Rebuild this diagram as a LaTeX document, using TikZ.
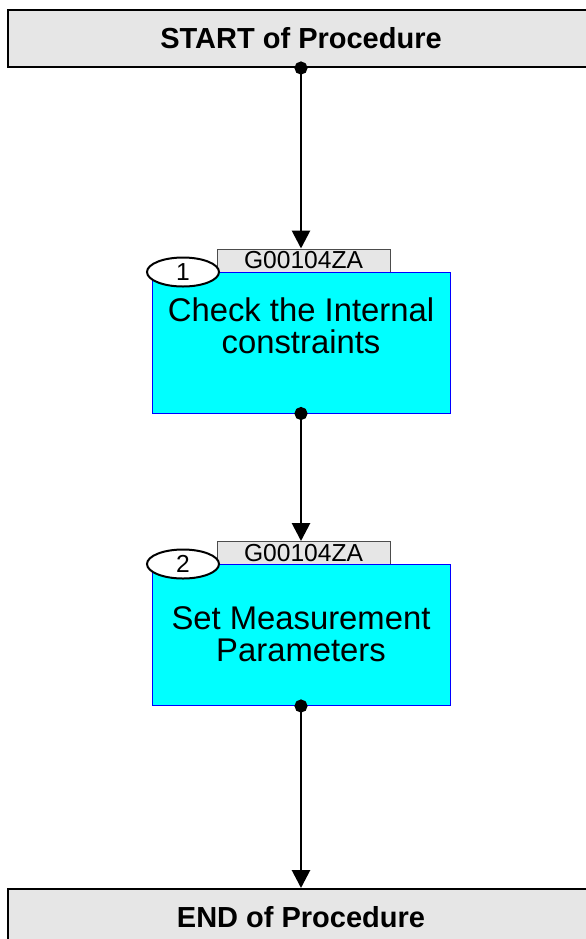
\documentclass[tikz,border=0pt]{standalone}
\usepackage{fontspec}
\setmainfont{Liberation Sans}
\usepackage{tikz}
\usetikzlibrary{shapes.geometric, arrows.meta, positioning}
\definecolor{procGray}{RGB}{230, 230, 230}
\definecolor{taskCyan}{RGB}{0, 255, 255}
\definecolor{taskBlue}{RGB}{0, 0, 255}

\begin{document}
\begin{tikzpicture}[
    x=0.5pt, y=-0.5pt,
    terminal/.style={rectangle, draw=black, fill=procGray, line width=1pt, minimum width=293pt, minimum height=28.5pt, inner sep=0pt, font=\fontsize{14.5}{16}\selectfont\bfseries},
    taskbox/.style={rectangle, draw=taskBlue, fill=taskCyan, line width=0.5pt, minimum width=149pt, minimum height=70.5pt, inner sep=0pt},
    tasktext/.style={align=center, inner sep=0pt, font=\fontsize{16.4}{16}\selectfont},
    tag/.style={rectangle, draw=black!70, fill=procGray, line width=0.5pt, minimum width=86.5pt, minimum height=11.5pt, inner sep=0pt, font=\fontsize{12.3}{13}\selectfont},
    stepnum/.style={ellipse, draw=black, fill=white, line width=1pt, minimum width=36pt, minimum height=14.5pt, inner sep=0pt, font=\fontsize{12.3}{13}\selectfont},
    line/.style={draw=black, line width=1.4pt, shorten <=-3.25pt, {Circle[length=6.5pt]}-{Triangle[length=9pt, width=9pt]}}
]
    \useasboundingbox (0,0) rectangle (585,939);

    % Start / End
    \node (start) [terminal] at (301,38.5) {START of Procedure};
    \node (end) [terminal] at (301,917.5) {END of Procedure};

    % Step 1
    \node (tag1) [tag] at (303.5,260.5) {G00104ZA};
    \node (task1) [taskbox] at (301,342.5) {};
    \node (text1) [tasktext] at (301,326) {Check the Internal\\constraints};
    \node (num1) [stepnum] at (183,272) {1};

    % Step 2
    \node (tag2) [tag] at (303.5,553) {G00104ZA};
    \node (task2) [taskbox] at (301,635) {};
    \node (text2) [tasktext] at (301,634) {Set Measurement\\Parameters};
    \node (num2) [stepnum] at (183,564) {2};

    % Connections
    \path [line] (start.south) -- (start.south |- tag1.north);
    \path [line] (task1.south) -- (task1.south |- tag2.north);
    \path [line] (task2.south) -- (end.north);
\end{tikzpicture}
\end{document}
